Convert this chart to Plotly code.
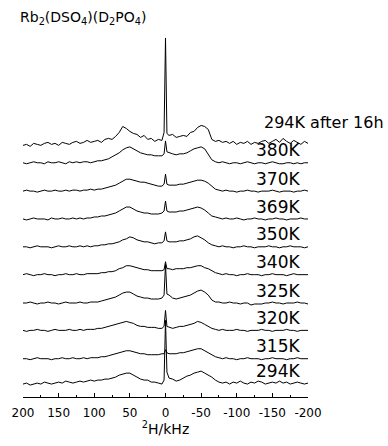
import plotly.graph_objects as go

# Frequency sampling points of the 2H spectra (kHz), finer around the central line
khz = list(range(200, 4, -5)) + [2, 0, -2] + list(range(-5, -201, -5))

# Spectrum labels, bottom to top
labels = ["294K", "315K", "320K", "325K", "340K", "350K", "369K", "370K", "380K", "294K after 16h"]

# Baseline level of each stacked spectrum (a.u.)
baseline = [14, 38.5, 67, 94.5, 123, 151, 179, 207, 235.5, 254]

# Intensity above baseline (a.u.), one value per point of khz
s294 = [-1, 0, -2, -1, 0, -1, 1, 0, -1, 0, 1, 0, 2, 1, 0, 1, 2, 1, 2, 3,
        2, 3, 3, 4, 4, 5, 6, 8, 9, 10, 10, 8, 6, 4, 3, 3, 1, 1, 0, -1,
        3, 63, 11,
        5, 4, 2, 3, 5, 7, 8, 10, 11, 12, 10, 8, 6, 3, 1, 0, 1,
        -1, 1, 0, 2, 0, -1, 1, 0, 2, 1, -1, 0, 1, 0, 2, 0, 1, -1, 0, 1, 0, -1, 0]
s315 = [0, 0, -1, 0, 1, 0, 0, 0, -1, 0, 0, 1, 0, 0, 1, 0, 0, 1, 0, 1,
        1, 1, 2, 2, 3, 4, 5, 6, 7, 8, 8, 7, 6, 5, 5, 4, 4, 4, 4, 5,
        5, 9, 6,
        5, 5, 5, 6, 6, 7, 8, 9, 10, 10, 8, 6, 4, 2, 1, 0, 1,
        0, 0, -1, 0, 0, 1, 0, 0, 0, -1, 0, 0, 1, 0, 0, 0, -1, 0, 0, 1, 0, 0, 0]
s320 = [0, -1, 0, 0, 1, 0, 0, -1, 0, 1, 0, 0, 0, 1, 0, 0, 1, 0, 1, 1,
        1, 2, 2, 3, 4, 5, 6, 7, 8, 9, 8, 7, 5, 4, 4, 3, 3, 3, 2, 2,
        4, 20, 4,
        3, 2, 3, 4, 4, 5, 6, 7, 9, 8, 6, 4, 2, 1, 0, 1, 0,
        0, 0, 1, 0, 0, -1, 0, 0, 0, 1, 0, 0, -1, 0, 0, 0, 1, 0, 0, -1, 0, 0, 0]
s325 = [0, 0, 1, 0, -1, 0, 0, 1, 0, 0, -1, 0, 1, 0, 0, 0, 1, 0, 0, 1,
        1, 1, 2, 3, 4, 5, 6, 8, 10, 11, 11, 9, 7, 6, 5, 5, 4, 4, 4, 5,
        8, 39, 9,
        8, 5, 4, 5, 6, 7, 8, 10, 12, 13, 11, 8, 3, 1, 1, 0, 0,
        1, 0, 0, -1, 0, 0, -2, -1, -1, -1, 0, 0, 1, 0, 0, -1, 0, 0, 0, 1, 0, 0, -1]
s340 = [0, 1, 0, -1, 0, 0, 1, 0, 0, -1, 0, 0, 1, 0, 0, 1, 0, 0, 1, 1,
        1, 1, 2, 2, 3, 3, 4, 6, 7, 9, 9, 8, 7, 6, 5, 5, 4, 4, 4, 4,
        5, 13, 6,
        6, 5, 6, 6, 6, 7, 7, 8, 9, 9, 7, 6, 4, 2, 1, 0, 1,
        0, 0, -1, 0, 0, 1, 0, 0, 0, -1, 0, 0, 1, 0, 0, 0, -1, 0, 1, 0, 0, 0, 0]
s350 = [0, 0, -1, 0, 1, 0, 0, 0, -1, 0, 1, 0, 0, 1, 0, 0, 1, 0, 1, 0,
        1, 1, 2, 2, 3, 3, 4, 5, 7, 8, 10, 9, 7, 6, 5, 5, 4, 3, 4, 4,
        6, 15, 6,
        5, 5, 5, 6, 6, 7, 8, 10, 11, 9, 7, 4, 2, 1, 0, 1, 0,
        0, -1, 0, 0, 1, 0, 0, -1, 0, 0, 0, 1, 0, 0, -1, 0, 0, 1, 0, 0, 0, -1, 0]
s369 = [0, -1, 0, 1, 0, 0, 0, -1, 1, 0, 0, 1, 0, 0, 1, 0, 1, 0, 1, 1,
        2, 2, 3, 3, 4, 5, 6, 8, 10, 12, 12, 10, 8, 7, 6, 6, 5, 5, 5, 6,
        8, 18, 8,
        7, 7, 7, 8, 8, 9, 10, 11, 12, 11, 9, 6, 3, 2, 1, 0, 1,
        0, 0, 1, 0, -1, 0, 0, 1, 0, 0, -1, 0, 0, 1, 0, 0, -1, 0, 0, 0, 1, 0, 0]
s370 = [0, 1, 0, 0, -1, 0, 1, 0, 0, 1, 0, 0, 1, 0, 1, 1, 0, 1, 1, 2,
        1, 2, 2, 3, 4, 5, 6, 8, 10, 12, 12, 11, 10, 9, 9, 8, 7, 6, 5, 5,
        7, 17, 7,
        6, 6, 6, 7, 7, 8, 9, 10, 11, 11, 10, 8, 5, 2, 1, 0, 1,
        0, 0, -1, 0, 0, 1, 0, 0, -1, 0, 0, 0, 1, 0, -1, 0, 0, 0, -1, 0, 0, 1, 0]
s380 = [0, -1, 0, 1, 0, 0, -1, 1, 0, 0, 1, 0, -1, 1, 0, 1, 0, 1, 1, 0,
        1, 2, 2, 3, 4, 6, 8, 10, 13, 15, 16, 14, 12, 10, 9, 8, 8, 7, 7, 7,
        9, 22, 11,
        10, 9, 8, 9, 9, 10, 12, 14, 15, 16, 14, 9, 3, 1, 0, 1, 0,
        -1, 0, 0, -1, 0, 1, 0, -1, 0, 0, -1, 0, 1, 0, -1, -1, 0, 0, -1, 0, -1, 0, 0]
s294_16h = [-1, 0, -2, 1, 0, -1, 1, 2, 0, 1, -1, 2, 1, 0, 2, 3, 1, 2, 4, 2,
            3, 4, 2, 5, 6, 5, 8, 12, 18, 16, 13, 11, 10, 7, 9, 5, 6, 3, 5, 4,
            12, 107, 11,
            9, 10, 7, 8, 9, 8, 12, 13, 17, 19, 18, 15, 5, 3, 4, 2, 3,
            1, 3, 0, 2, 1, 3, 0, 2, 1, 3, 4, 1, 3, 5, 2, 6, 3, 1, 4, 2, 0, 3, 1]

spectra = [s294, s315, s320, s325, s340, s350, s369, s370, s380, s294_16h]

# Axis ticks (kHz)
major_ticks = [200, 150, 100, 50, 0, -50, -100, -150, -200]

FONT = "DejaVu Sans"

fig = go.Figure()
for name, base, sp in zip(labels, baseline, spectra):
    fig.add_trace(go.Scatter(
        x=khz, y=[base + v for v in sp], mode="lines", name=name,
        line=dict(color="black", width=1.0), showlegend=False,
        hoverinfo="skip",
    ))

# Temperature labels to the right of each spectrum
annotations = []
for name, base in zip(labels[:-1], baseline[:-1]):
    annotations.append(dict(
        x=0.98, xref="paper", xanchor="right",
        y=base + 12.5, yref="y", yanchor="middle",
        text=name, showarrow=False,
        font=dict(family=FONT, size=17, color="black"),
    ))
annotations.append(dict(
    x=0.84, xref="paper", xanchor="left",
    y=baseline[-1] + 22, yref="y", yanchor="middle",
    text=labels[-1], showarrow=False,
    font=dict(family=FONT, size=16, color="black"),
))

fig.update_layout(
    width=388, height=446,
    margin=dict(l=23, r=80, t=30, b=47),
    paper_bgcolor="white", plot_bgcolor="white",
    title=dict(
        text="Rb<sub>2</sub>(DSO<sub>4</sub>)(D<sub>2</sub>PO<sub>4</sub>)",
        x=20 / 388, xref="container", xanchor="left",
        y=1 - 17 / 446, yref="container", yanchor="middle",
        font=dict(family=FONT, size=14, color="black"),
    ),
    annotations=annotations,
    xaxis=dict(
        range=[200, -200], showgrid=False, zeroline=False,
        showline=True, linecolor="black", linewidth=1.2,
        tickvals=major_ticks, ticktext=[str(t) for t in major_ticks],
        ticks="inside", ticklen=4, tickwidth=1.1, tickcolor="black",
        minor=dict(ticks="inside", ticklen=2, tickwidth=1, tickcolor="black",
                   tick0=0, dtick=25),
        tickfont=dict(family=FONT, size=12, color="black"),
        ticklabelstandoff=4,
        title=dict(text="<sup>2</sup>H/kHz", standoff=5,
                   font=dict(family=FONT, size=14, color="black")),
    ),
    yaxis=dict(range=[0, 369], visible=False, fixedrange=True),
)

fig.write_html("out.html")
